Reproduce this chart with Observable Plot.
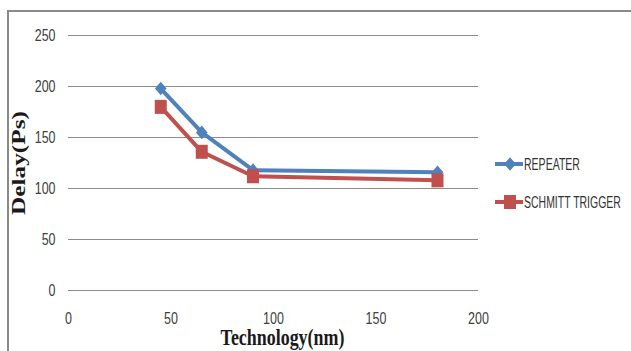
<!DOCTYPE html>
<html>
<head>
<meta charset="utf-8">
<script src="https://cdn.jsdelivr.net/npm/d3@7"></script>
<script src="https://cdn.jsdelivr.net/npm/@observablehq/plot@0.6"></script>
<style>
  html, body { margin: 0; padding: 0; background: #fff; }
  #wrap { position: relative; width: 631px; height: 351px; overflow: hidden; }
  #frame { position: absolute; left: 7px; top: 10px; width: 640px; height: 360px;
           border-top: 2px solid #8a8a8a; border-left: 2px solid #8a8a8a; box-sizing: border-box; }
  #chart { position: absolute; left: 0; top: 0; }
  #legend { position: absolute; left: 490px; top: 140px; overflow: visible; }
</style>
</head>
<body>
<div id="wrap">
  <div id="frame"></div>
  <div id="chart"></div>
</div>
<script>
const technology = [45, 65, 90, 180];
const repeater = [198, 155, 118, 116];
const schmitt = [180, 136, 112, 108];
const seriesNames = ["REPEATER", "SCHMITT TRIGGER"];
const colors = ["#4F81BD", "#C0504D"];
const xTicks = [0, 50, 100, 150, 200];
const yTicks = [0, 50, 100, 150, 200, 250];

const data = [];
technology.forEach((t, i) => {
  data.push({tech: t, delay: repeater[i], series: seriesNames[0]});
  data.push({tech: t, delay: schmitt[i], series: seriesNames[1]});
});

// Excel-like marker shapes
const fatDiamond = {draw(ctx, size) { const w = 5.8, h = 6.8; ctx.moveTo(0, -h); ctx.lineTo(w, 0); ctx.lineTo(0, h); ctx.lineTo(-w, 0); ctx.closePath(); }};
const tallSquare = {draw(ctx, size) { const w = 6, h = 7; ctx.moveTo(-w, -h); ctx.lineTo(w, -h); ctx.lineTo(w, h); ctx.lineTo(-w, h); ctx.closePath(); }};
const symbols = [fatDiamond, tallSquare];

const tickFont = "'Liberation Sans', Arial, sans-serif";
const titleFont = "'Liberation Serif', 'Times New Roman', serif";

const chart = Plot.plot({
  width: 631,
  height: 351,
  marginLeft: 68,
  marginRight: 153,
  marginTop: 35,
  marginBottom: 61,
  style: {background: "transparent", overflow: "visible"},
  x: {domain: [0, 200]},
  y: {domain: [0, 250]},
  color: {domain: seriesNames, range: colors},
  symbol: {domain: seriesNames, range: symbols},
  marks: [
    Plot.gridY(yTicks, {stroke: "#8c8c8c", strokeOpacity: 1, strokeWidth: 1}),
    Plot.axisY(yTicks, {tickSize: 0, tickPadding: 13, label: null, fontSize: 16, fontFamily: tickFont, fill: "#404040"}),
    Plot.axisX(xTicks, {tickSize: 0, tickPadding: 22, label: null, fontSize: 16, fontFamily: tickFont, fill: "#404040"}),
    Plot.line(data, {x: "tech", y: "delay", z: "series", stroke: "series", strokeWidth: 4}),
    Plot.dot(data, {x: "tech", y: "delay", fill: "series", symbol: "series", stroke: null}),
    Plot.text(["Technology(nm)"], {frameAnchor: "bottom", dy: 54, dx: 9, fontSize: 23, fontWeight: "bold", fontFamily: titleFont, fill: "#1a1a1a"}),
    Plot.text(["Delay(Ps)"], {frameAnchor: "left", textAnchor: "middle", dx: -49, rotate: -90, fontSize: 18, fontWeight: "bold", fontFamily: titleFont, fill: "#1a1a1a"})
  ]
});
document.getElementById("chart").appendChild(chart);

// Condense texts horizontally (the reference uses a narrow font)
function condense(el, factor, target) {
  const len = el.getComputedTextLength();
  const sx = target != null ? target / len : factor;
  const tr = el.getAttribute("transform") || "";
  el.setAttribute("transform", (tr + ` scale(${sx},1)`).trim());
}
chart.querySelectorAll('g[aria-label="x-axis tick label"] text, g[aria-label="y-axis tick label"] text')
  .forEach(t => condense(t, 0.78));
const titles = chart.querySelectorAll('g[aria-label="text"] text');
condense(titles[0], 1, 124);
condense(titles[1], 1, 104);

// Legend overlay
const leg = d3.create("svg").attr("id", "legend").attr("width", 141).attr("height", 80);
document.getElementById("wrap").appendChild(leg.node());
const rowY = [24, 62];
const legendWidths = [56, 97];
seriesNames.forEach((name, i) => {
  const g = leg.append("g").attr("transform", `translate(0,${rowY[i]})`);
  g.append("line").attr("x1", 5).attr("x2", 33).attr("y1", 0).attr("y2", 0)
    .attr("stroke", colors[i]).attr("stroke-width", 4);
  const p = d3.path();
  symbols[i].draw(p, 0);
  g.append("path").attr("d", p.toString()).attr("transform", "translate(20,0)").attr("fill", colors[i]);
  const t = g.append("text").attr("x", 0).attr("y", 0).attr("dy", "0.36em")
    .attr("font-family", tickFont).attr("font-size", 16.5).attr("fill", "#333")
    .text(name);
  const len = t.node().getComputedTextLength();
  t.attr("transform", `translate(34,0) scale(${legendWidths[i] / len},1)`);
});
</script>
</body>
</html>
